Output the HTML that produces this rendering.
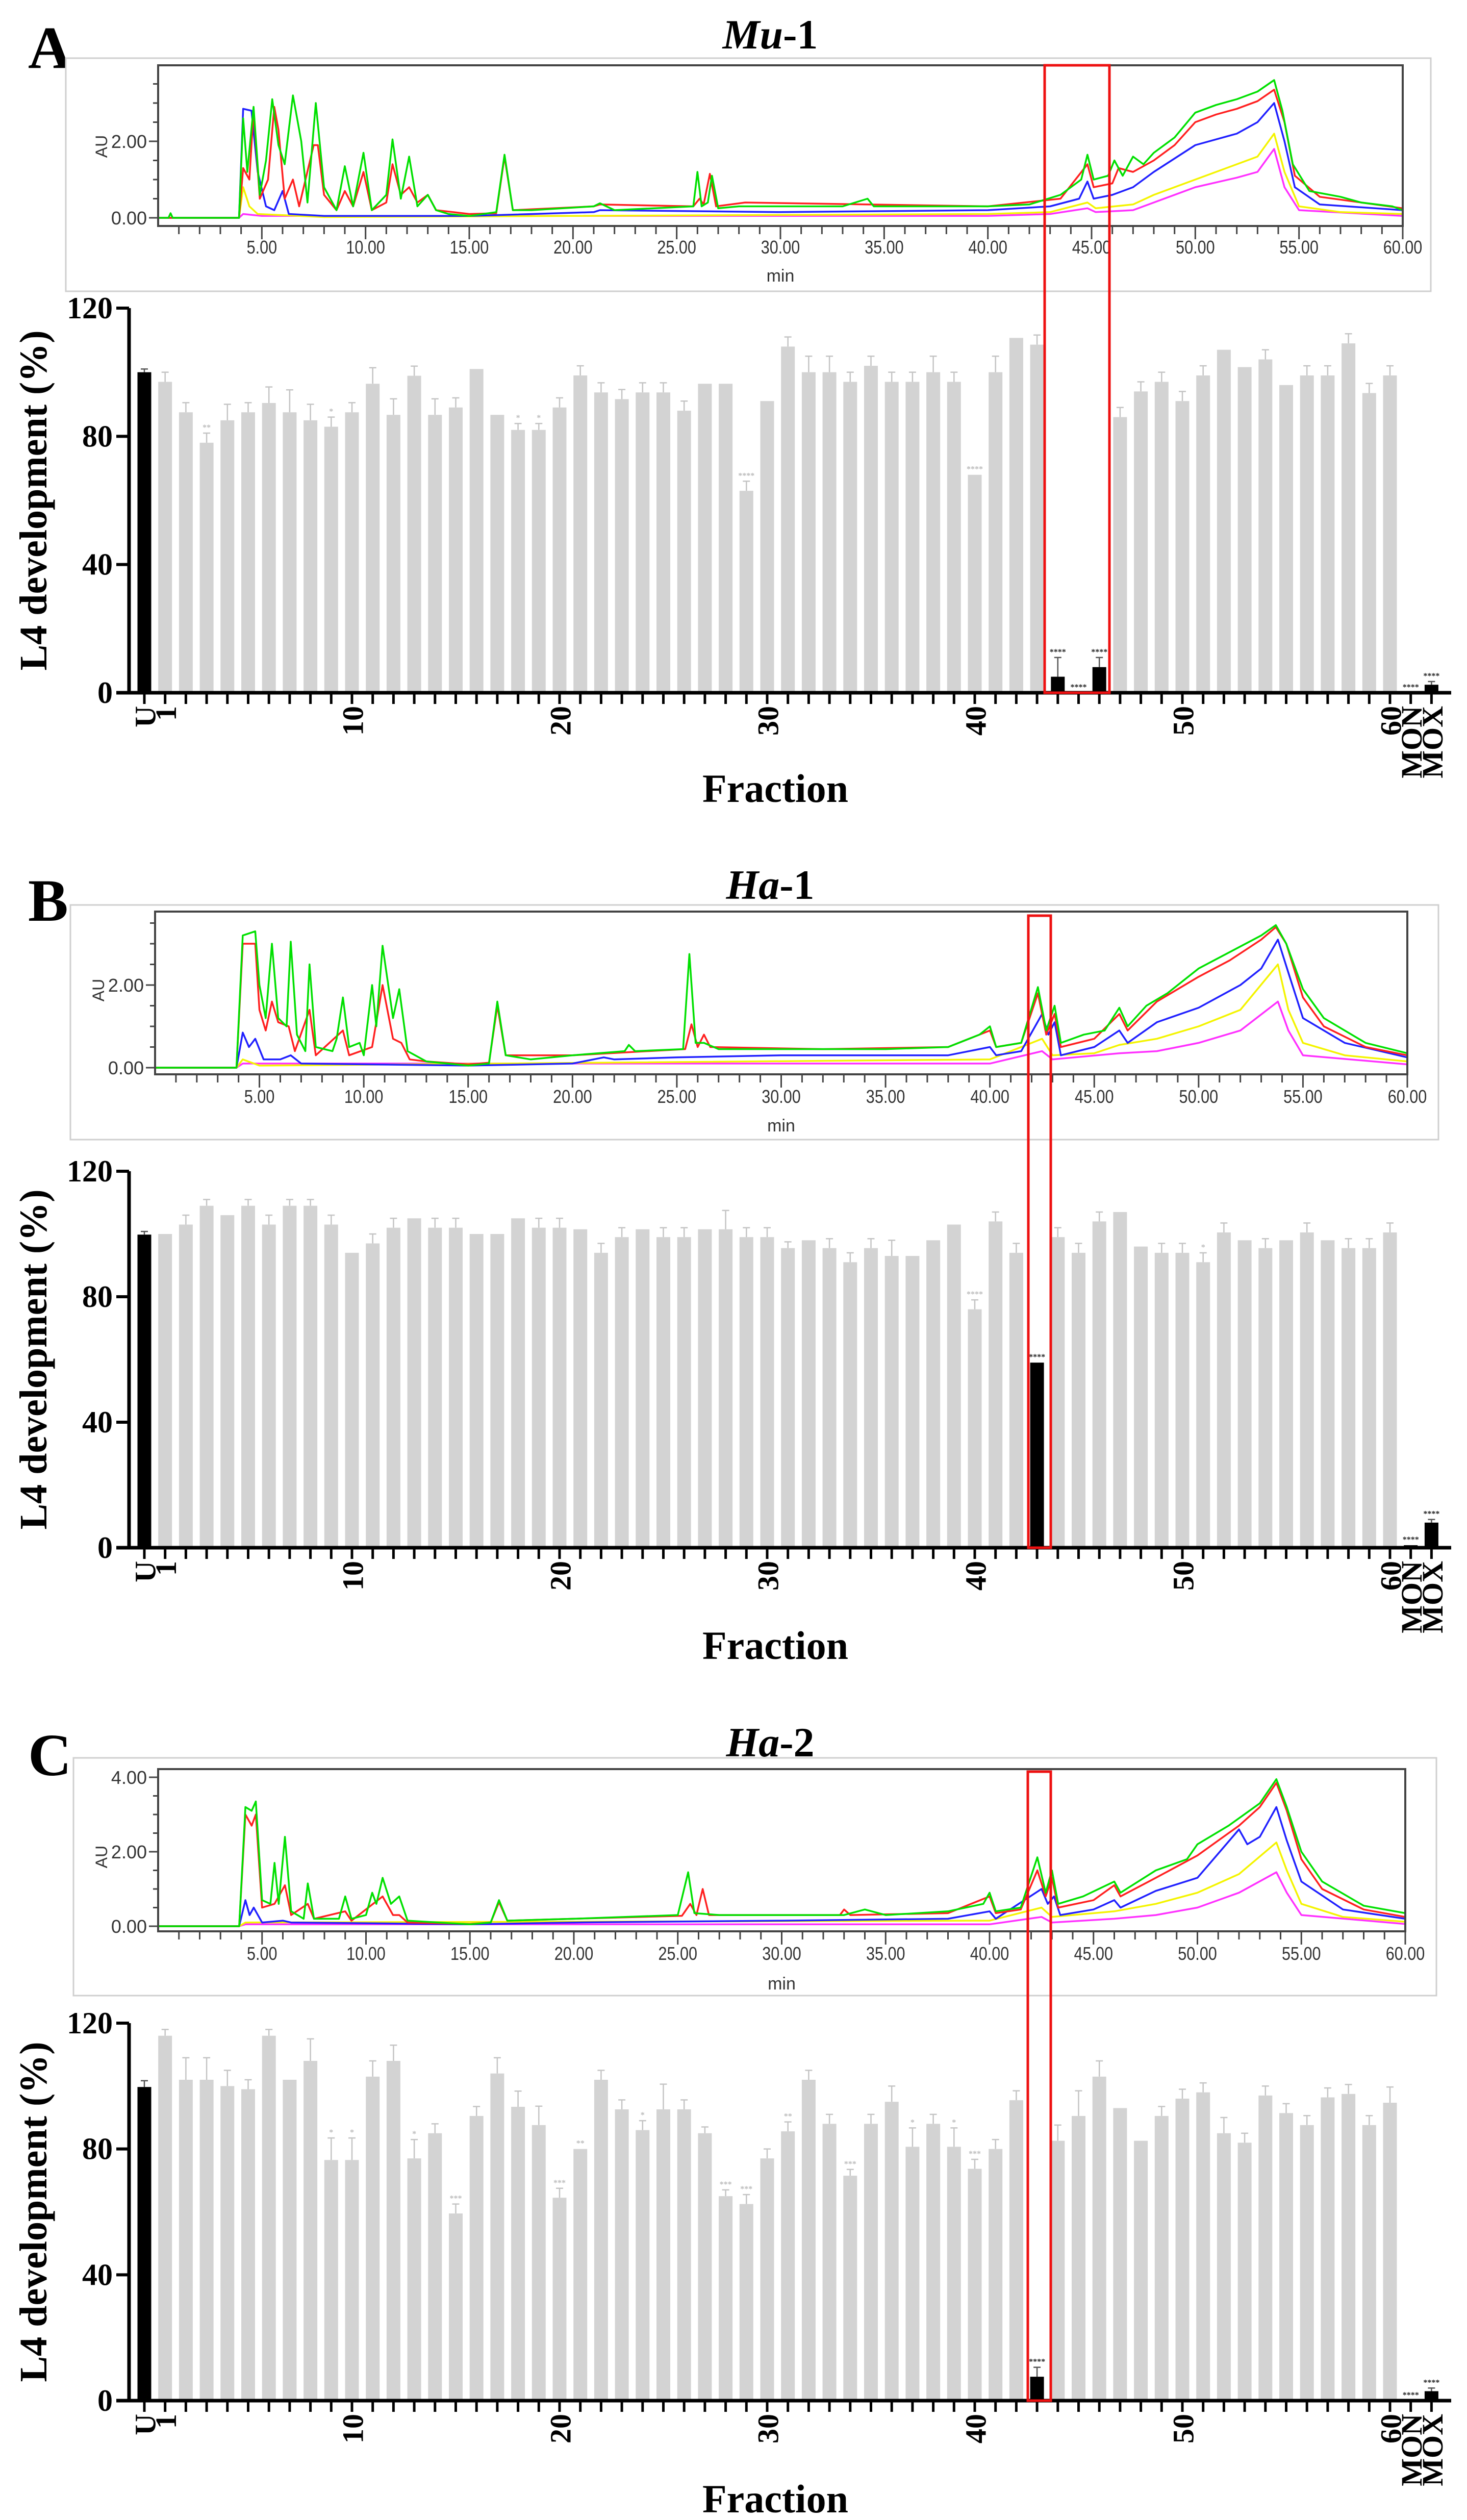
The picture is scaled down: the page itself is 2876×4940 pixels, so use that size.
<!DOCTYPE html>
<html><head><meta charset="utf-8"><style>
html,body{margin:0;padding:0;background:#fff;}
svg{display:block;}
</style></head><body>
<svg id="fig" xmlns="http://www.w3.org/2000/svg" width="2876" height="4940" viewBox="0 0 2876 4940">
<rect x="0" y="0" width="2876" height="4940" fill="#fff"/>
</svg>
<script>
// ===== Bar data (L4 development %), order: U, 1..60, MON, MOX =====
const barLabels = ["U"].concat(Array.from({length:60},(_,i)=>String(i+1))).concat(["MON","MOX"]);
const tickLabelShown = ["U","1","10","20","30","40","50","60","MON","MOX"];
const valuesA = [100,97,87.5,78,85,87.5,90.4,87.5,85,83,87.5,96.4,86.7,98.9,86.7,89,101,86.7,82,82,89,99,93.7,91.6,93.7,93.7,88,96.4,96.4,63,91,108,100,100,97,102,97,97,100,97,68,100,110.7,108.6,5,0,8,86,94,97,91,99,107,101.6,104,96,99,99,109,93.5,99,0,2.5];
const errA = [1,3,3,3,5,3,5,7,5,3,3,5,5,3,5,3,0,0,2,2,3,3,3,3,3,3,3,0,0,3,0,3,5,5,3,3,3,3,5,3,0,5,0,3,6,0,3,3,3,3,3,3,0,0,3,0,3,3,3,3,3,0,1];
const valuesB = [99.8,100,103,109,106,109,103,109,109,103,94,97,102,105,102,102,100,100,105,102,102,101.5,94,99,101.5,99,99,101.5,101.5,99,99,95.5,98,95.5,91,95.5,93,93,98,103,76,104,94,59,99,94,104,107,96,94,94,91,100.5,98,95.5,98,100.5,98,95.5,95.5,100.5,0.8,8];
const errB = [1,0,3,2,0,2,3,2,2,3,0,3,3,0,3,3,0,0,0,3,3,0,3,3,0,3,3,0,6,3,3,2,0,3,3,3,5,0,0,0,3,3,3,0,3,3,3,0,0,3,3,3,3,0,3,0,3,0,3,3,3,0,1];
const valuesC = [99.7,116,102,102,100,99,116,102,108,76.5,76.5,103,108,77,85,59.5,90.5,104,93.4,87.6,64.5,80,102,92.6,86,92.6,92.6,85,65,62.5,77,85.6,102,88,71.5,88,95,80.7,88,80.7,73.7,80,95.5,7.6,82.6,90.5,103,93,82.6,90.5,96,98,85,82,97,91.4,87.6,96.4,97.5,87.6,94.7,0,3];
const errC = [2,2,7,7,5,3,2,0,7,7,7,5,5,6,3,3,3,5,5,6,3,0,3,3,3,8,3,2,2,3,3,3,3,3,2,3,5,6,3,6,3,3,3,3,5,8,5,0,0,3,3,3,5,3,3,3,3,3,3,3,5,0,1];
const blackA = ["U","44","45","46","MON","MOX"];
const blackB = ["U","43","MON","MOX"];
const blackC = ["U","43","MON","MOX"];
const starsA = {"29":"****","40":"****","44":"****","45":"****","46":"****","MON":"****","MOX":"****","3":"**","18":"*","19":"*","9":"*"};
const starsB = {"40":"****","43":"****","MON":"****","MOX":"****","51":"*"};
const starsC = {"9":"*","10":"*","13":"*","15":"***","20":"***","21":"**","24":"*","28":"***","29":"***","31":"**","34":"***","37":"*","39":"*","40":"***","43":"****","MON":"****","MOX":"****"};

// ===== Chromatogram traces: [time(min), AU] =====
const chromA_green=[[0,0],[0.5,0],[0.6,0.12],[0.7,0],[3.9,0],[4.1,2.6],[4.3,1.2],[4.6,2.9],[4.9,0.6],[5.2,1.5],[5.5,3.1],[5.8,1.9],[6.1,1.4],[6.5,3.2],[6.9,2.0],[7.2,0.4],[7.6,3.0],[8.0,0.8],[8.6,0.2],[9.0,1.35],[9.4,0.3],[9.9,1.7],[10.3,0.2],[11.0,0.6],[11.3,2.05],[11.7,0.5],[12.1,1.6],[12.5,0.3],[13.0,0.6],[13.4,0.2],[14,0.1],[15,0.05],[16.3,0.15],[16.7,1.65],[17.1,0.2],[18,0.2],[21,0.3],[21.3,0.38],[22,0.2],[25.8,0.3],[26.0,1.2],[26.2,0.3],[26.5,0.4],[26.7,1.1],[27,0.25],[28,0.3],[33,0.3],[34.2,0.5],[34.5,0.3],[40,0.3],[42,0.35],[43.5,0.6],[44.5,1.0],[44.8,1.65],[45.1,1.0],[45.8,1.1],[46.1,1.5],[46.5,1.1],[47,1.6],[47.5,1.4],[48,1.7],[49,2.1],[50,2.75],[51,2.95],[52,3.1],[53,3.3],[53.8,3.6],[54.2,2.8],[54.7,1.4],[55.5,0.7],[57,0.55],[58,0.4],[59.5,0.3],[60,0.2]];
const chromA_red=[[0,0],[3.9,0],[4.1,1.3],[4.4,1.0],[4.6,2.8],[4.9,0.5],[5.3,1.0],[5.6,2.9],[5.8,2.3],[6.1,0.5],[6.5,1.0],[6.8,0.3],[7.5,1.9],[7.7,1.9],[8.0,0.6],[8.6,0.2],[9.0,0.7],[9.4,0.3],[9.9,1.2],[10.3,0.2],[11.0,0.4],[11.3,1.4],[11.7,0.6],[12.1,0.8],[12.5,0.4],[13,0.6],[13.4,0.2],[15,0.1],[16.3,0.12],[16.7,1.6],[17.1,0.2],[21,0.3],[21.3,0.35],[25.8,0.3],[26.1,0.5],[26.3,0.35],[26.6,1.15],[26.9,0.3],[28.3,0.4],[40,0.3],[43.5,0.5],[44.8,1.4],[45.1,0.8],[46,0.9],[46.3,1.3],[47,1.2],[48,1.5],[49,1.9],[50,2.5],[51,2.7],[52,2.85],[53,3.05],[53.8,3.35],[54.3,2.5],[54.8,1.1],[56,0.55],[58,0.4],[60,0.25]];
const chromA_blue=[[0,0],[3.9,0],[4.1,2.85],[4.5,2.8],[4.8,1.2],[5.2,0.3],[5.6,0.2],[6.0,0.7],[6.3,0.1],[8,0.05],[15,0.05],[21,0.15],[21.3,0.2],[30,0.15],[40,0.2],[43,0.3],[44.4,0.5],[44.8,0.95],[45.1,0.5],[46,0.6],[47,0.8],[48,1.2],[50,1.9],[52,2.2],[53,2.5],[53.8,3.0],[54.3,2.0],[54.8,0.8],[56,0.35],[60,0.2]];
const chromA_yellow=[[0,0],[3.9,0],[4.1,0.8],[4.4,0.3],[4.8,0.1],[8,0.02],[40,0.1],[43,0.15],[44.8,0.4],[45.2,0.25],[47,0.35],[48,0.6],[50,1.0],[52,1.4],[53,1.6],[53.8,2.2],[54.3,1.2],[55,0.3],[57,0.15],[60,0.1]];
const chromA_magenta=[[0,0],[3.9,0],[4.1,0.1],[5,0.05],[40,0.05],[43,0.1],[44.8,0.25],[45.2,0.15],[47,0.2],[48,0.4],[50,0.8],[52,1.05],[53,1.2],[53.8,1.8],[54.3,0.8],[55,0.2],[60,0.05]];

const chromB_green=[[0,0],[3.9,0],[4.2,3.2],[4.8,3.3],[5.0,2.0],[5.3,1.2],[5.6,3.0],[5.9,1.2],[6.3,1.0],[6.5,3.05],[6.8,0.8],[7.2,0.4],[7.4,2.5],[7.7,0.5],[8.5,0.4],[8.7,0.7],[9.0,1.7],[9.3,0.5],[9.8,0.6],[10.0,0.3],[10.4,2.0],[10.6,1.0],[10.9,2.95],[11.4,1.2],[11.7,1.9],[12.1,0.4],[13,0.15],[15,0.05],[16,0.1],[16.4,1.6],[16.8,0.3],[18,0.2],[20,0.3],[22.5,0.4],[22.7,0.55],[23,0.4],[25.3,0.45],[25.6,2.75],[25.9,0.6],[26.3,0.6],[27,0.45],[32,0.45],[35,0.45],[38,0.5],[39.5,0.8],[40,1.0],[40.3,0.5],[41.5,0.6],[42.3,1.95],[42.7,0.9],[43.1,1.5],[43.4,0.6],[44.5,0.8],[45.5,0.9],[46.2,1.45],[46.6,1.0],[47.5,1.5],[48.5,1.8],[50,2.4],[51.5,2.8],[53,3.2],[53.7,3.45],[54.2,3.0],[55,1.9],[56,1.2],[58,0.6],[60,0.35]];
const chromB_red=[[0,0],[3.9,0],[4.2,3.0],[4.8,3.0],[5.0,1.4],[5.3,0.9],[5.6,1.6],[5.9,1.1],[6.4,1.0],[6.7,0.4],[7.4,1.4],[7.7,0.3],[9.0,0.9],[9.3,0.3],[10.4,0.5],[10.9,2.0],[11.4,0.7],[11.8,0.6],[12.2,0.2],[13,0.15],[15,0.08],[16.0,0.12],[16.4,1.5],[16.8,0.3],[20,0.3],[25.4,0.45],[25.7,1.05],[26,0.5],[26.3,0.8],[26.6,0.5],[32,0.45],[38,0.5],[40,0.9],[40.3,0.5],[41.5,0.6],[42.3,1.8],[42.7,0.8],[43.1,1.3],[43.4,0.5],[45,0.7],[46.2,1.3],[46.6,0.9],[48,1.6],[50,2.2],[51.5,2.6],[53,3.1],[53.7,3.4],[54.2,3.0],[55,1.7],[56,1.0],[58,0.5],[60,0.3]];
const chromB_blue=[[0,0],[3.9,0],[4.2,0.85],[4.5,0.5],[4.8,0.7],[5.2,0.2],[6,0.2],[6.5,0.3],[7,0.1],[15,0.05],[20,0.1],[21.5,0.25],[22,0.2],[25,0.25],[30,0.3],[38,0.3],[40,0.5],[40.3,0.3],[41.5,0.4],[42.5,1.3],[42.8,0.8],[43.1,1.1],[43.4,0.3],[45,0.5],[46.2,0.9],[46.6,0.6],[48,1.1],[50,1.45],[52,2.0],[53,2.4],[53.8,3.1],[54.3,2.3],[55,1.2],[57,0.6],[60,0.25]];
const chromB_yellow=[[0,0],[3.9,0],[4.2,0.2],[5,0.05],[40,0.2],[42.5,0.7],[43,0.3],[45,0.35],[46.2,0.55],[48,0.7],[50,1.0],[52,1.4],[53.8,2.5],[54.3,1.4],[55,0.6],[57,0.3],[60,0.15]];
const chromB_magenta=[[0,0],[3.9,0],[4.2,0.1],[40,0.1],[42.5,0.4],[43,0.2],[46.2,0.35],[48,0.4],[50,0.6],[52,0.9],[53.8,1.6],[54.3,0.9],[55,0.3],[60,0.08]];

const chromC_green=[[0,0],[3.9,0],[4.2,3.2],[4.5,3.1],[4.7,3.35],[5.0,0.7],[5.4,0.6],[5.6,1.7],[5.8,0.6],[6.1,2.4],[6.4,0.4],[7.0,0.2],[7.2,1.15],[7.5,0.2],[8.7,0.2],[9.0,0.8],[9.3,0.2],[10.0,0.3],[10.3,0.9],[10.5,0.6],[10.8,1.3],[11.2,0.6],[11.6,0.8],[12,0.15],[15,0.05],[16,0.1],[16.4,0.7],[16.8,0.15],[20,0.2],[25,0.3],[25.5,1.45],[25.8,0.35],[27,0.3],[33,0.3],[34,0.45],[35,0.3],[38,0.4],[39.7,0.6],[40,0.9],[40.3,0.4],[41.5,0.5],[42.3,1.85],[42.7,0.9],[43.0,1.5],[43.3,0.6],[44.5,0.8],[46,1.2],[46.3,0.9],[48,1.5],[49.5,1.8],[50,2.2],[51.5,2.7],[53,3.3],[53.8,3.95],[54.3,3.2],[55,2.0],[56,1.2],[58,0.55],[60,0.35]];
const chromC_red=[[0,0],[3.9,0],[4.2,3.0],[4.5,2.7],[4.7,3.0],[5.0,0.5],[5.6,0.6],[6.1,1.1],[6.4,0.3],[7.2,0.6],[7.5,0.2],[9.0,0.4],[9.3,0.15],[10.8,0.8],[11.3,0.3],[11.6,0.3],[12,0.1],[15,0.06],[16.0,0.1],[16.4,0.65],[16.8,0.15],[20,0.2],[25.2,0.28],[25.6,0.6],[25.9,0.3],[26.2,1.0],[26.5,0.3],[32.8,0.3],[33,0.45],[33.3,0.3],[38,0.35],[40,0.8],[40.3,0.35],[41.5,0.45],[42.3,1.5],[42.7,0.8],[43,1.3],[43.3,0.5],[45,0.7],[46,1.1],[46.3,0.8],[48,1.3],[50,1.9],[52,2.7],[53,3.2],[53.8,3.85],[54.3,3.1],[55,1.8],[56,1.0],[58,0.45],[60,0.25]];
const chromC_blue=[[0,0],[3.9,0],[4.2,0.7],[4.4,0.3],[4.6,0.5],[5.0,0.1],[6,0.15],[6.4,0.1],[15,0.05],[20,0.1],[30,0.15],[38,0.2],[40,0.4],[40.3,0.2],[42.5,1.0],[42.8,0.6],[43.1,0.8],[43.4,0.3],[45,0.45],[46,0.7],[46.3,0.5],[48,0.95],[50,1.3],[52,2.6],[52.4,2.2],[53,2.4],[53.8,3.2],[54.3,2.3],[55,1.2],[57,0.45],[60,0.2]];
const chromC_yellow=[[0,0],[3.9,0],[4.2,0.1],[40,0.15],[42.5,0.5],[43,0.25],[46,0.4],[48,0.6],[50,0.9],[52,1.4],[53.8,2.25],[54.3,1.5],[55,0.6],[57,0.25],[60,0.12]];
const chromC_magenta=[[0,0],[3.9,0],[4.2,0.05],[40,0.05],[42.5,0.25],[43,0.1],[46,0.2],[48,0.3],[50,0.5],[52,0.9],[53.8,1.45],[54.3,0.9],[55,0.3],[60,0.06]];

const chromTicks = [5,10,15,20,25,30,35,40,45,50,55,60];

const NS="http://www.w3.org/2000/svg";
const svg=document.getElementById('fig');
function mk(tag,attrs,parent,text){const e=document.createElementNS(NS,tag);for(const k in attrs)e.setAttribute(k,attrs[k]);if(text!==undefined)e.textContent=text;(parent||svg).appendChild(e);return e;}

const panels=[
 {key:"a",letter:"A",title:"Mu",suffix:"-1",letterY:133,titleY:95,
  outer:[129,114,2805,571],inner:[310,128,2750,443],au0:427,auPx:75,yTicks:[0,2],
  xlabY:497,minY:552,bTop:604,bZero:1358,red:[2048,2175,128],
  vals:valuesA,errs:errA,black:blackA,stars:starsA,fracY:1572,
  traces:[["#00e000",chromA_green],["#ff2020",chromA_red],["#2020ff",chromA_blue],["#f4f400",chromA_yellow],["#ff30ff",chromA_magenta]].reverse()},
 {key:"b",letter:"B",title:"Ha",suffix:"-1",letterY:1805,titleY:1762,
  outer:[138,1774,2820,2234],inner:[304,1787,2759,2106],au0:2093,auPx:81,yTicks:[0,2],
  xlabY:2162,minY:2218,bTop:2296,bZero:3034,red:[2016,2060,1795],
  vals:valuesB,errs:errB,black:blackB,stars:starsB,fracY:3252,
  traces:[["#00e000",chromB_green],["#ff2020",chromB_red],["#2020ff",chromB_blue],["#f4f400",chromB_yellow],["#ff30ff",chromB_magenta]].reverse()},
 {key:"c",letter:"C",title:"Ha",suffix:"-2",letterY:3480,titleY:3443,
  outer:[144,3446,2816,3912],inner:[310,3468,2755,3786],au0:3776,auPx:73,yTicks:[0,2,4],
  xlabY:3842,minY:3900,bTop:3966,bZero:4706,red:[2015,2060,3473],
  vals:valuesC,errs:errC,black:blackC,stars:starsC,fracY:4925,
  traces:[["#00e000",chromC_green],["#ff2020",chromC_red],["#2020ff",chromC_blue],["#f4f400",chromC_yellow],["#ff30ff",chromC_magenta]].reverse()}
];

const U_X=283, STEP=40.7, BW=27, AXIS_X=253, AXIS_END=2845;
const serif='"Liberation Serif", serif', sans='"Liberation Sans", sans-serif';

panels.forEach(p=>{
  const g=mk('g',{});
  
  
  const L=mk('text',{x:55,y:p.letterY,'font-family':serif,'font-weight':'bold','font-size':118,fill:'#000'},g,p.letter);
  
  
  const T=mk('text',{x:1510,y:p.titleY,'text-anchor':'middle','font-family':serif,'font-weight':'bold','font-size':82,fill:'#000'},g);
  
  
  mk('tspan',{'font-style':'italic'},T,p.title); mk('tspan',{},T,p.suffix);

  const cg=mk('g',{},g);
  
  
  const [ox1,oy1,ox2,oy2]=p.outer,[ix1,iy1,ix2,iy2]=p.inner;
  mk('rect',{x:ox1,y:oy1,width:ox2-ox1,height:oy2-oy1,fill:'#fff',stroke:'#cfcfcf','stroke-width':3},cg);
  const tx=t=>ix1+t/60*(ix2-ix1), ay=v=>p.au0-v*p.auPx;
  p.traces.forEach(([col,pts],k)=>{
    const d=pts.map((q,i)=>(i?'L':'M')+tx(q[0]).toFixed(1)+','+Math.max(iy1+2,ay(q[1])).toFixed(1)).join('');
    const pa=mk('path',{d:d,fill:'none',stroke:col,'stroke-width':3.5,'stroke-linejoin':'round'},cg);
    
    
  });
  mk('rect',{x:ix1,y:iy1,width:ix2-ix1,height:iy2-iy1,fill:'none',stroke:'#444','stroke-width':4},cg);
  for(let m=1;m<=60;m++){const x=tx(m);const major=m%5===0;mk('line',{x1:x,y1:iy2,x2:x,y2:iy2+(major?26:16),stroke:'#444','stroke-width':3},cg);}
  chromTicks.forEach(t=>{
    const tt=mk('text',{x:tx(t),y:p.xlabY,'text-anchor':'middle','font-family':sans,'font-size':36,fill:'#333',transform:`translate(${tx(t)},0) scale(0.85,1) translate(${-tx(t)},0)`},cg,t.toFixed(2));
    
    
  });
  const mn=mk('text',{x:(ix1+ix2)/2,y:p.minY,'text-anchor':'middle','font-family':sans,'font-size':34,fill:'#333'},cg,'min');
  
  
  const maxAu=(p.au0-iy1)/p.auPx;
  for(let v=0;v<=maxAu;v+=0.5){const y=ay(v);mk('line',{x1:ix1-(v%2===0?18:10),y1:y,x2:ix1,y2:y,stroke:'#444','stroke-width':3},cg);}
  p.yTicks.forEach(v=>{
    const yt=mk('text',{x:ix1-22,y:ay(v)+13,'text-anchor':'end','font-family':sans,'font-size':36,fill:'#333'},cg,v.toFixed(2));
    
    
  });
  const au=mk('text',{x:0,y:0,'text-anchor':'middle','font-family':sans,'font-size':32,fill:'#333',transform:`translate(${ix1-100},${ay(2)+10}) rotate(-90)`},cg,'AU');
  
  

  const bg=mk('g',{},g);
  
  
  const ppu=(p.bZero-p.bTop)/120;
  const by=v=>p.bZero-v*ppu;
  const bx=i=>U_X+i*STEP;
  barLabels.forEach((lab,i)=>{
    const v=p.vals[i], e=p.errs[i]; if(v===undefined) return;
    const isBlack=p.black.indexOf(lab)>=0;
    const col=isBlack?'#000':'#d3d3d3';
    if(e>0){
      const ec=isBlack?'#555':'#c4c4c4';
      mk('line',{x1:bx(i),y1:by(v),x2:bx(i),y2:by(v+e),stroke:ec,'stroke-width':2.5},bg);
      mk('line',{x1:bx(i)-7,y1:by(v+e),x2:bx(i)+7,y2:by(v+e),stroke:ec,'stroke-width':2.5},bg);
    }
    const r=mk('rect',{x:bx(i)-BW/2,y:by(v),width:BW,height:Math.max(0,v*ppu),fill:col},bg);
    
    
    if(p.stars[lab]){
      const s=mk('text',{x:bx(i),y:by(v+e)-6,'text-anchor':'middle','font-family':serif,'font-size':16,'font-weight':'bold',fill:isBlack?'#222':'#bbb'},bg,p.stars[lab]);
      
      
    }
  });
  mk('line',{x1:AXIS_X,y1:p.bTop,x2:AXIS_X,y2:p.bZero+3,stroke:'#000','stroke-width':7},bg);
  [0,40,80,120].forEach(v=>{
    mk('line',{x1:AXIS_X-25,y1:by(v),x2:AXIS_X,y2:by(v),stroke:'#000','stroke-width':6},bg);
    const yl=mk('text',{x:AXIS_X-32,y:by(v)+20,'text-anchor':'end','font-family':serif,'font-weight':'bold','font-size':60,fill:'#000'},bg,String(v));
    
    
  });
  mk('line',{x1:AXIS_X-25,y1:p.bZero,x2:AXIS_END,y2:p.bZero,stroke:'#000','stroke-width':7},bg);
  barLabels.forEach((lab,i)=>{
    mk('line',{x1:bx(i),y1:p.bZero,x2:bx(i),y2:p.bZero+22,stroke:'#000','stroke-width':5},bg);
    if(tickLabelShown.indexOf(lab)>=0){
      const xl=mk('text',{x:0,y:0,'text-anchor':'end','dominant-baseline':'central','font-family':serif,'font-weight':'bold','font-size':58,fill:'#000',transform:`translate(${bx(i)+2},${p.bZero+26}) rotate(-90)`},bg,lab);
      
      
    }
  });
  const yt=mk('text',{x:0,y:0,'text-anchor':'middle','dominant-baseline':'central','font-family':serif,'font-weight':'bold','font-size':76,fill:'#000',transform:`translate(66,${(p.bTop+p.bZero)/2}) rotate(-90)`},bg,'L4 development (%)');
  
  
  const fr=mk('text',{x:1520,y:p.fracY,'text-anchor':'middle','font-family':serif,'font-weight':'bold','font-size':78,fill:'#000'},bg,'Fraction');
  
  

  const rb=mk('rect',{x:p.red[0],y:p.red[2],width:p.red[1]-p.red[0],height:p.bZero-p.red[2],fill:'none',stroke:'#ee1111','stroke-width':5},g);
  
  
});
</script>
</body></html>
